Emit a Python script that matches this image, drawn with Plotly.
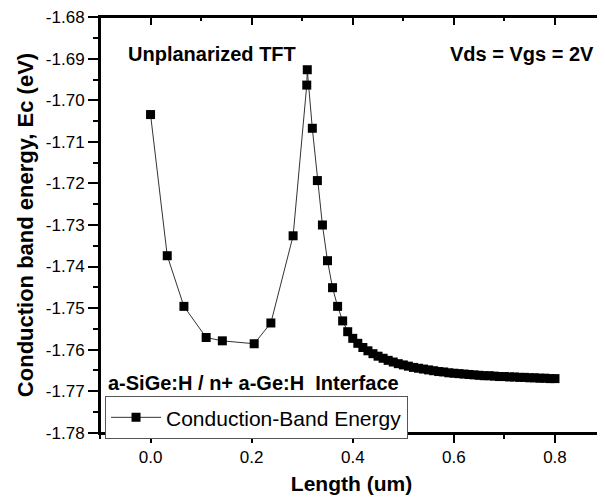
import plotly.graph_objects as go

# ---- data ----
length_um = [0.000, 0.033, 0.066, 0.110, 0.142, 0.205, 0.238, 0.282, 0.309, 0.310,
             0.320, 0.330, 0.340, 0.350, 0.360, 0.370, 0.380, 0.390,
             0.40, 0.41, 0.42, 0.43, 0.44, 0.45, 0.46, 0.47, 0.48, 0.49, 0.50,
             0.51, 0.52, 0.53, 0.54, 0.55, 0.56, 0.57, 0.58, 0.59, 0.60,
             0.61, 0.62, 0.63, 0.64, 0.65, 0.66, 0.67, 0.68, 0.69, 0.70,
             0.71, 0.72, 0.73, 0.74, 0.75, 0.76, 0.77, 0.78, 0.79, 0.80]
ec_ev = [-1.7034, -1.7374, -1.7496, -1.7571, -1.7579, -1.7586, -1.7536, -1.7326, -1.6963, -1.6926,
         -1.7067, -1.7193, -1.7300, -1.7386, -1.7451, -1.7496, -1.7531, -1.7557,
         -1.7573, -1.7585, -1.7595, -1.7603, -1.7610, -1.7616, -1.7621, -1.7626, -1.7630, -1.7634, -1.7637,
         -1.7640, -1.7643, -1.7645, -1.7647, -1.7649, -1.7651, -1.7653, -1.7654, -1.7656, -1.7657,
         -1.7658, -1.7659, -1.7660, -1.7661, -1.7662, -1.7663, -1.7663, -1.7664, -1.7665, -1.7665,
         -1.7666, -1.7666, -1.7667, -1.7667, -1.7668, -1.7668, -1.7669, -1.7669, -1.7670, -1.7670]

series_name = "Conduction-Band Energy"
x_ticks = [0.0, 0.2, 0.4, 0.6, 0.8]
x_tick_labels = ["0.0", "0.2", "0.4", "0.6", "0.8"]
y_ticks = [-1.68, -1.69, -1.70, -1.71, -1.72, -1.73, -1.74, -1.75, -1.76, -1.77, -1.78]
y_tick_labels = ["-1.68", "-1.69", "-1.70", "-1.71", "-1.72", "-1.73", "-1.74", "-1.75", "-1.76", "-1.77", "-1.78"]

FONT = "Arial, 'Liberation Sans', sans-serif"
X_RANGE = [-0.1, 0.895]
Y_RANGE = [-1.7801, -1.6799]

fig = go.Figure()
fig.add_trace(go.Scatter(
    x=length_um, y=ec_ev, mode="lines+markers", name=series_name,
    line=dict(color="#333333", width=1),
    marker=dict(symbol="square", size=9, color="black", line=dict(width=0)),
))
# invisible trace to activate the overlay axes that carry the inward ticks
fig.add_trace(go.Scatter(x=[None], y=[None], xaxis="x2", yaxis="y2",
                         showlegend=False, hoverinfo="skip"))

axis_common = dict(showgrid=False, zeroline=False, linecolor="black", linewidth=2,
                   tickcolor="black", tickwidth=1.5, ticklabeloverflow="allow")

# the page body adds an 8px offset, so the figure is 8px smaller than the window
fig.update_layout(
    width=597, height=492,
    margin=dict(l=92, r=0, t=7, b=67),
    paper_bgcolor="white", plot_bgcolor="white",
    font=dict(family=FONT, color="black"),
    xaxis=dict(range=X_RANGE, tickvals=x_ticks, ticktext=x_tick_labels,
               showline=True, mirror=True,
               ticks="outside", ticklen=8, tickfont=dict(size=17),
               minor=dict(ticks="outside", ticklen=4, dtick=0.1, tick0=0, tickcolor="black", tickwidth=1.5),
               title=dict(text="<b>Length (um)</b>", font=dict(size=21), standoff=10),
               **axis_common),
    yaxis=dict(range=Y_RANGE, tickvals=y_ticks, ticktext=y_tick_labels,
               showline=True, mirror=True,
               ticks="outside", ticklen=10, tickfont=dict(size=17),
               minor=dict(ticks="outside", ticklen=5, dtick=0.005, tick0=-1.78, tickcolor="black", tickwidth=1.5),
               title=dict(text="<b>Conduction band energy, Ec (eV)</b>", font=dict(size=22), standoff=6),
               **axis_common),
    xaxis2=dict(range=X_RANGE, overlaying="x", side="top", anchor="y2", tickvals=x_ticks,
                showticklabels=False, showline=False,
                ticks="inside", ticklen=8,
                minor=dict(ticks="inside", ticklen=4, dtick=0.1, tick0=0, tickcolor="black", tickwidth=1.5),
                **axis_common),
    yaxis2=dict(range=Y_RANGE, overlaying="y", side="right", anchor="x2", tickvals=y_ticks,
                showticklabels=False, showline=False,
                ticks="inside", ticklen=6,
                minor=dict(ticks="inside", ticklen=3, dtick=0.005, tick0=-1.78, tickcolor="black", tickwidth=1.5),
                **axis_common),
    legend=dict(x=0.01, y=0.0885, xanchor="left", yanchor="top",
                bgcolor="white", bordercolor="#555555", borderwidth=1,
                font=dict(size=21, family=FONT), itemwidth=50,
                tracegroupgap=0),
    showlegend=True,
)

# explicit frame around the plotting area
fig.add_shape(type="rect", xref="paper", yref="paper", x0=0, y0=0, x1=1, y1=1,
              line=dict(color="black", width=2), layer="above")

fig.add_annotation(text="<b>Unplanarized TFT</b>", xref="paper", yref="paper",
                   x=(126 - 100) / 505, y=(433 - 52) / 418, xanchor="left", yanchor="middle",
                   showarrow=False, font=dict(size=20, family=FONT))
fig.add_annotation(text="<b>Vds = Vgs = 2V</b>", xref="paper", yref="paper",
                   x=(598 - 100) / 505, y=(433 - 52) / 418, xanchor="right", yanchor="middle",
                   showarrow=False, font=dict(size=20, family=FONT))
fig.add_annotation(text="<b>a-SiGe:H / n+ a-Ge:H\u00a0\u00a0Interface</b>", xref="paper", yref="paper",
                   x=(106 - 100) / 505, y=(433 - 383) / 418, xanchor="left", yanchor="middle",
                   showarrow=False, font=dict(size=20, family=FONT))

fig.write_html("out.html")
